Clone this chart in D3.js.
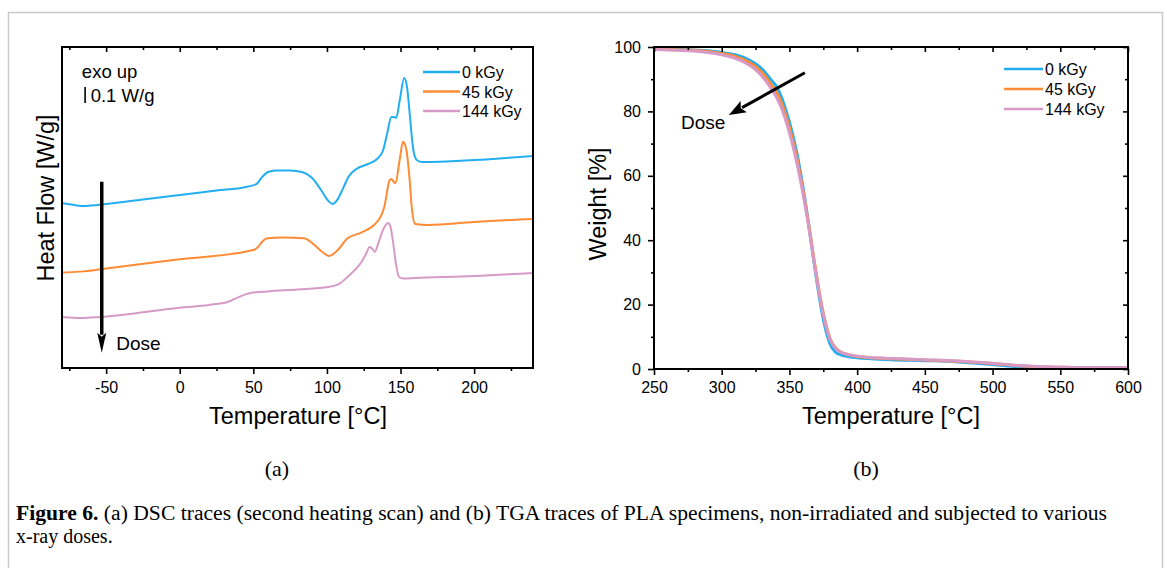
<!DOCTYPE html>
<html lang="en">
<head>
<meta charset="utf-8">
<script src="https://d3js.org/d3.v7.min.js"></script>
<style>
body { margin: 0; background: #fff; }
svg text { font-family: "Liberation Sans", Arial, sans-serif; fill: #000; }
.serif { font-family: "Liberation Serif", "Times New Roman", serif !important; }
.domain { display: none; }
</style>
</head>
<body>
<div id="fig"></div>
<script>
// ---- DSC traces (panel a), heat flow in W/g (offset traces, exo up)
var dscT0  = [-80, -72, -64, -56, -50, -25, 0, 25, 45, 52, 56, 60, 65, 75, 83, 90, 96, 101, 104, 107, 111, 115, 120, 128, 134, 138, 141, 143.7, 145.5, 147, 149.5, 152.5, 154.5, 156, 158.7, 161, 165, 200, 240];
var dscHF0 = [1.028, 1.016, 1.009, 1.016, 1.022, 1.050, 1.078, 1.106, 1.128, 1.146, 1.190, 1.221, 1.231, 1.231, 1.221, 1.184, 1.109, 1.040, 1.022, 1.047, 1.121, 1.196, 1.240, 1.271, 1.302, 1.352, 1.464, 1.564, 1.564, 1.558, 1.670, 1.807, 1.745, 1.607, 1.358, 1.296, 1.283, 1.296, 1.321];

var dscT45  = [-80, -65, -50, 0, 50, 53, 56, 59.6, 70, 84.5, 91.5, 98, 101.5, 107.4, 114, 123.3, 132, 137, 139, 142.6, 143.7, 146.5, 149.4, 151.7, 154, 156.2, 157.8, 160, 168.8, 200, 240];
var dscHF45 = [0.595, 0.602, 0.620, 0.677, 0.735, 0.752, 0.787, 0.808, 0.813, 0.808, 0.766, 0.715, 0.698, 0.735, 0.808, 0.843, 0.891, 0.953, 1.005, 1.171, 1.178, 1.151, 1.296, 1.410, 1.358, 1.171, 0.984, 0.897, 0.891, 0.910, 0.928];

var dscT144  = [-80, -67, -54, 0, 20, 32.5, 40, 48, 60, 80, 101, 108, 114, 119, 123, 126.5, 129, 131, 132.5, 135, 137.5, 140, 141.5, 143, 145, 147, 149, 152, 160, 200, 240];
var dscHF144 = [0.318, 0.312, 0.318, 0.376, 0.393, 0.411, 0.442, 0.467, 0.477, 0.489, 0.505, 0.523, 0.567, 0.611, 0.654, 0.710, 0.754, 0.741, 0.723, 0.779, 0.847, 0.891, 0.903, 0.885, 0.779, 0.642, 0.567, 0.558, 0.561, 0.573, 0.592];

// ---- TGA traces (panel b), weight in %
var tgaT     = [250, 270, 290, 300, 310, 320, 326, 332, 336, 340, 344, 348, 352, 356, 360, 364, 368, 372, 376, 380, 384, 388, 394, 400, 410, 425, 450, 475, 500, 520, 540, 560, 600];
var tgaW0    = [99.4, 99.2, 98.8, 98.3, 97.6, 96.0, 94.5, 92.2, 90.0, 88.0, 84.5, 79.5, 73.5, 66.0, 56.5, 45.5, 33.5, 22.5, 13.5, 7.8, 5.2, 4.4, 3.8, 3.5, 3.2, 2.9, 2.6, 2.2, 1.4, 0.6, 0.3, 0.3, 0.3];
var tgaW45   = [99.3, 99.1, 98.6, 98.0, 97.1, 95.3, 93.6, 91.0, 88.7, 86.3, 82.8, 77.8, 71.8, 64.5, 55.5, 45.5, 34.5, 24.0, 15.5, 9.5, 6.6, 5.3, 4.4, 3.9, 3.5, 3.2, 2.8, 2.4, 1.7, 1.0, 0.6, 0.5, 0.4];
var tgaW144  = [99.2, 98.9, 98.3, 97.6, 96.5, 94.5, 92.6, 89.8, 87.4, 84.8, 81.2, 76.2, 70.2, 63.0, 54.5, 44.8, 33.8, 23.5, 15.0, 9.2, 6.4, 5.2, 4.4, 4.0, 3.6, 3.3, 2.9, 2.5, 1.8, 1.1, 0.7, 0.5, 0.5];

var doseLabels = ["0 kGy", "45 kGy", "144 kGy"];
var colors = ["#22AFF2", "#FF8B35", "#D79AC6"];

var dscTicks = [-50, 0, 50, 100, 150, 200];
var dscMinor = [-75, -25, 25, 75, 125, 175, 225];
var tgaXTicks = [250, 300, 350, 400, 450, 500, 550, 600];
var tgaXMinor = [275, 325, 375, 425, 475, 525, 575];
var tgaYTicks = [0, 20, 40, 60, 80, 100];
var tgaYMinor = [10, 30, 50, 70, 90];

var W = 1167, H = 568;
var svg = d3.select("#fig").append("svg").attr("width", W).attr("height", H);
svg.append("rect").attr("width", W).attr("height", H).attr("fill", "#fff");
svg.append("rect").attr("x", 8.5).attr("y", 12.5).attr("width", 1154).attr("height", 600)
    .attr("fill", "none").attr("stroke", "#c9c9c9").attr("stroke-width", 1.5);

var plainNum = function(d) { return String(d); };  // hyphen minus, like the original

function arrow(g, x1, y1, x2, y2, w, headLen, headW) {
    var dx = x2 - x1, dy = y2 - y1, L = Math.sqrt(dx*dx + dy*dy);
    var ux = dx / L, uy = dy / L;
    var bx = x2 - ux*headLen, by = y2 - uy*headLen;
    g.append("line").attr("x1", x1).attr("y1", y1).attr("x2", bx + ux*2).attr("y2", by + uy*2)
        .attr("stroke", "#000").attr("stroke-width", w);
    g.append("path")
        .attr("d", "M" + x2 + "," + y2 + "L" + (bx - uy*headW/2) + "," + (by + ux*headW/2) +
                   "L" + (bx + ux*headLen*0.2) + "," + (by + uy*headLen*0.2) +
                   "L" + (bx + uy*headW/2) + "," + (by - ux*headW/2) + "Z")
        .attr("fill", "#000");
}

function styleAxis(a) {
    a.selectAll("line").attr("stroke", "#000").attr("stroke-width", 1.6);
    a.selectAll("text").style("font-size", "16px");
}

// ================= panel (a) =================
var xa = d3.scaleLinear().domain([-80, 240]).range([62, 533]);
var ya = d3.scaleLinear().domain([0, 2]).range([368, 47]);
var ga = svg.append("g");

var lineA = d3.line().x(function(d) { return xa(d[0]); }).y(function(d) { return ya(d[1]); }).curve(d3.curveMonotoneX);
var dscSeries = [d3.zip(dscT0, dscHF0), d3.zip(dscT45, dscHF45), d3.zip(dscT144, dscHF144)];
dscSeries.forEach(function(s, i) {
    ga.append("path").datum(s).attr("d", lineA).attr("fill", "none")
        .attr("stroke", colors[i]).attr("stroke-width", 2);
});

styleAxis(ga.append("g").attr("transform", "translate(0,368)")
    .call(d3.axisBottom(xa).tickValues(dscTicks).tickSize(6).tickPadding(6).tickFormat(plainNum)));
styleAxis(ga.append("g").attr("transform", "translate(0,368)")
    .call(d3.axisBottom(xa).tickValues(dscMinor).tickSize(3).tickFormat("")));
styleAxis(ga.append("g").attr("transform", "translate(0,47)")
    .call(d3.axisTop(xa).tickValues(dscTicks).tickSize(-5).tickFormat("")));
styleAxis(ga.append("g").attr("transform", "translate(0,47)")
    .call(d3.axisTop(xa).tickValues(dscMinor).tickSize(-3).tickFormat("")));
ga.selectAll(".tick text").attr("dy", "0.35em").attr("y", 19);

ga.append("rect").attr("x", 62).attr("y", 47).attr("width", 533 - 62).attr("height", 368 - 47)
    .attr("fill", "none").attr("stroke", "#000").attr("stroke-width", 2);

ga.append("text").attr("transform", "translate(54,198) rotate(-90)")
    .attr("text-anchor", "middle").style("font-size", "23.5px").text("Heat Flow [W/g]");
ga.append("text").attr("x", 298).attr("y", 424).attr("text-anchor", "middle")
    .style("font-size", "23.5px").text("Temperature [°C]");

// exo up + scale bar
ga.append("text").attr("x", xa(-66.5)).attr("y", ya(1.807)).style("font-size", "18.5px").text("exo up");
ga.append("line").attr("x1", xa(-64.3)).attr("x2", xa(-64.3)).attr("y1", ya(1.751)).attr("y2", ya(1.651))
    .attr("stroke", "#000").attr("stroke-width", 1.6);
ga.append("text").attr("x", xa(-60.5)).attr("y", ya(1.66)).style("font-size", "18.5px").text("0.1 W/g");

// dose arrow
arrow(ga, xa(-53), ya(1.16), xa(-53), ya(0.095), 3.5, 20, 9);
ga.append("text").attr("x", xa(-43.2)).attr("y", ya(0.112)).style("font-size", "19px").text("Dose");

// legend
doseLabels.forEach(function(lab, i) {
    var yy = 72 + i*19.5;
    ga.append("line").attr("x1", 423).attr("x2", 460).attr("y1", yy).attr("y2", yy)
        .attr("stroke", colors[i]).attr("stroke-width", 2.5);
    ga.append("text").attr("x", 462).attr("y", yy + 6).style("font-size", "16px").text(lab);
});

svg.append("text").attr("class", "serif").attr("x", 277).attr("y", 476).attr("text-anchor", "middle")
    .style("font-size", "22px").text("(a)");

// ================= panel (b) =================
var xb = d3.scaleLinear().domain([250, 600]).range([654, 1128]);
var yb = d3.scaleLinear().domain([0, 100]).range([369, 47]);
var gb = svg.append("g");

var lineB = d3.line().x(function(d) { return xb(d[0]); }).y(function(d) { return yb(d[1]); }).curve(d3.curveMonotoneX);
[tgaW0, tgaW45, tgaW144].forEach(function(w, i) {
    gb.append("path").datum(d3.zip(tgaT, w)).attr("d", lineB).attr("fill", "none")
        .attr("stroke", colors[i]).attr("stroke-width", 3);
});

styleAxis(gb.append("g").attr("transform", "translate(0,369)")
    .call(d3.axisBottom(xb).tickValues(tgaXTicks).tickSize(6).tickPadding(6).tickFormat(plainNum)));
styleAxis(gb.append("g").attr("transform", "translate(0,369)")
    .call(d3.axisBottom(xb).tickValues(tgaXMinor).tickSize(3).tickFormat("")));
styleAxis(gb.append("g").attr("transform", "translate(0,47)")
    .call(d3.axisTop(xb).tickValues(tgaXTicks).tickSize(-5).tickFormat("")));
styleAxis(gb.append("g").attr("transform", "translate(0,47)")
    .call(d3.axisTop(xb).tickValues(tgaXMinor).tickSize(-3).tickFormat("")));
gb.selectAll(".tick text").attr("dy", "0.35em").attr("y", 18);

styleAxis(gb.append("g").attr("transform", "translate(654,0)")
    .call(d3.axisLeft(yb).tickValues(tgaYTicks).tickSize(6).tickPadding(7).tickFormat(plainNum)));
styleAxis(gb.append("g").attr("transform", "translate(654,0)")
    .call(d3.axisLeft(yb).tickValues(tgaYMinor).tickSize(3).tickFormat("")));
styleAxis(gb.append("g").attr("transform", "translate(1128,0)")
    .call(d3.axisRight(yb).tickValues(tgaYTicks).tickSize(-5).tickFormat("")));
styleAxis(gb.append("g").attr("transform", "translate(1128,0)")
    .call(d3.axisRight(yb).tickValues(tgaYMinor).tickSize(-3).tickFormat("")));

gb.append("rect").attr("x", 654).attr("y", 47).attr("width", 1128 - 654).attr("height", 369 - 47)
    .attr("fill", "none").attr("stroke", "#000").attr("stroke-width", 2);

gb.append("text").attr("transform", "translate(606,204) rotate(-90)")
    .attr("text-anchor", "middle").style("font-size", "23.5px").text("Weight [%]");
gb.append("text").attr("x", 891).attr("y", 424).attr("text-anchor", "middle")
    .style("font-size", "23.5px").text("Temperature [°C]");

arrow(gb, xb(361.4), yb(92), xb(305.3), yb(78.9), 3, 17, 13);
gb.append("text").attr("x", xb(270)).attr("y", yb(74.6)).style("font-size", "19px").text("Dose");

doseLabels.forEach(function(lab, i) {
    var yy = 69 + i*20;
    gb.append("line").attr("x1", 1004).attr("x2", 1043).attr("y1", yy).attr("y2", yy)
        .attr("stroke", colors[i]).attr("stroke-width", 2.5);
    gb.append("text").attr("x", 1045).attr("y", yy + 6).style("font-size", "16px").text(lab);
});

svg.append("text").attr("class", "serif").attr("x", 866).attr("y", 476).attr("text-anchor", "middle")
    .style("font-size", "22px").text("(b)");

// ================= caption =================
var cap = svg.append("text").attr("class", "serif").attr("x", 16).attr("y", 520).style("font-size", "20px")
    .attr("textLength", 1091).attr("lengthAdjust", "spacingAndGlyphs");
cap.append("tspan").attr("class", "serif").style("font-weight", "bold").text("Figure 6.");
cap.append("tspan").attr("class", "serif").text(" (a) DSC traces (second heating scan) and (b) TGA traces of PLA specimens, non-irradiated and subjected to various");
svg.append("text").attr("class", "serif").attr("x", 16).attr("y", 543).style("font-size", "20px").text("x-ray doses.");
</script>
</body>
</html>
